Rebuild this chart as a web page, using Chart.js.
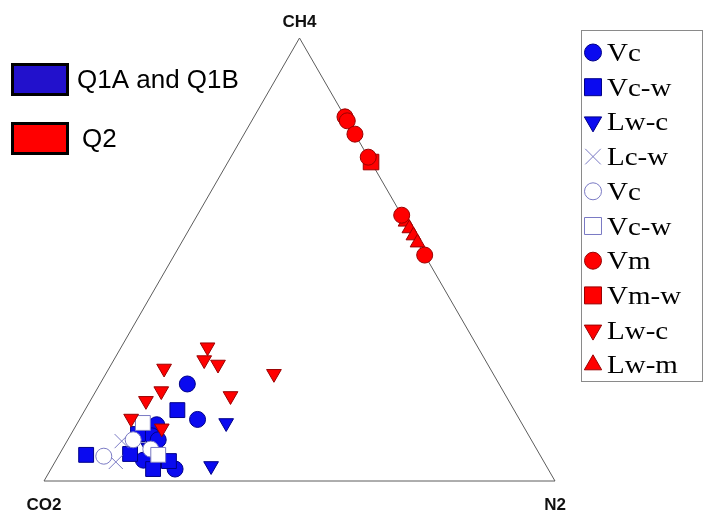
<!DOCTYPE html>
<html>
<head>
<meta charset="utf-8">
<script src="https://cdn.jsdelivr.net/npm/chart.js@4/dist/chart.umd.min.js"></script>
<style>
  html, body { margin: 0; padding: 0; background: #ffffff; }
  #wrap { position: relative; width: 705px; height: 514px; }
  canvas { display: block; }
</style>
</head>
<body>
<div id="wrap"><canvas id="tern" width="705" height="514"></canvas></div>
<script>
// Gas compositions, each point = [CH4 %, CO2 %, N2 %]
const q1VcFilled = [[21.9, 61.0, 17.1], [13.9, 63.0, 23.1], [12.7, 71.6, 15.7], [10.2, 73.8, 16.0], [9.3, 73.0, 17.7], [4.7, 78.2, 17.1], [2.7, 73.0, 24.3]];
const q1VcwFilled = [[5.9, 88.8, 5.3], [6.1, 80.1, 13.8], [2.7, 77.3, 20.0], [4.5, 73.3, 22.2], [16.0, 65.9, 18.1], [10.6, 76.3, 13.1]];
const q1LwcFilled = [[13.1, 57.8, 29.1], [3.4, 65.6, 31.0], [7.6, 75.8, 16.6]];
const q1Lcw = [[9.0, 80.3, 10.7], [4.3, 83.8, 11.9]];
const q1VcOpen = [[5.6, 85.5, 8.9], [9.3, 77.9, 12.8], [7.2, 75.5, 17.3]];
const q1VcwOpen = [[13.1, 74.1, 12.8], [5.9, 74.7, 19.4]];
const q2Vm = [[82.2, 0, 17.8], [81.3, 0, 18.7], [78.3, 0, 21.7], [73.1, 0, 26.9], [60.0, 0, 40.0], [51.0, 0, 49.0]];
const q2Vmw = [[72.0, 0, 28.0]];
const q2Lwc = [[30.2, 52.9, 16.9], [27.3, 55.0, 17.7], [26.3, 52.8, 20.9], [25.4, 63.8, 10.8], [24.2, 42.9, 32.9], [20.3, 66.9, 12.8], [19.2, 53.9, 26.9], [18.1, 71.0, 10.9], [14.1, 75.9, 10.0], [11.9, 71.0, 17.1]];
const q2Lwm = [[58.5, 0, 41.5], [57.0, 0, 43.0], [55.4, 0, 44.6], [53.8, 0, 46.2]];

// Apex labels and group labels
const apexLabels = ['CH4', 'CO2', 'N2'];
const groupLabels = ['Q1A and Q1B', 'Q2'];
const seriesLabels = ['Vc', 'Vc-w', 'Lw-c', 'Lc-w', 'Vc', 'Vc-w', 'Vm', 'Vm-w', 'Lw-c', 'Lw-m'];

const H = Math.sqrt(3) / 2;

// Ternary -> Cartesian: CO2 at (0,0), N2 at (1,0), CH4 at (0.5, H)
function toXY(p) {
  const s = p[0] + p[1] + p[2];
  const ch4 = p[0] / s, n2 = p[2] / s;
  return { x: n2 + 0.5 * ch4, y: ch4 * H };
}

const BLUE = '#0a0af0', BLUE_EDGE = '#000088';
const OPEN_EDGE = '#7a7ac4';
const RED = '#ff0000', RED_EDGE = '#9a0000';

// z: stacking layer (higher draws on top)
const series = [
  { data: q1VcFilled,  style: 'circle',   rot: 0,   r: 8,    fill: BLUE,      edge: BLUE_EDGE, z: 1 },
  { data: q1VcwFilled, style: 'rect',     rot: 0,   r: 10.5, fill: BLUE,      edge: BLUE_EDGE, z: 2 },
  { data: q1LwcFilled, style: 'triangle', rot: 180, r: 8.5,  fill: BLUE,      edge: BLUE_EDGE, z: 3 },
  { data: q1Lcw,       style: 'crossRot', rot: 0,   r: 10,   fill: OPEN_EDGE, edge: OPEN_EDGE, z: 4 },
  { data: q1VcOpen,    style: 'circle',   rot: 0,   r: 8,    fill: '#ffffff', edge: OPEN_EDGE, z: 5 },
  { data: q1VcwOpen,   style: 'rect',     rot: 0,   r: 10.5, fill: '#ffffff', edge: OPEN_EDGE, z: 6 },
  { data: q2Vm,        style: 'circle',   rot: 0,   r: 8,    fill: RED,       edge: RED_EDGE,  z: 10 },
  { data: q2Vmw,       style: 'rect',     rot: 0,   r: 11,   fill: RED,       edge: RED_EDGE,  z: 8 },
  { data: q2Lwc,       style: 'triangle', rot: 180, r: 8.5,  fill: RED,       edge: RED_EDGE,  z: 9 },
  { data: q2Lwm,       style: 'triangle', rot: 0,   r: 8.5,  fill: RED,       edge: RED_EDGE,  z: 7 }
];

const datasets = series.map((s, i) => ({
  type: 'scatter',
  label: seriesLabels[i],
  data: s.data.map(toXY),
  pointStyle: s.style,
  pointRotation: s.rot,
  pointRadius: s.r,
  pointHoverRadius: s.r,
  pointBackgroundColor: s.fill,
  pointBorderColor: s.edge,
  pointBorderWidth: 1,
  order: 20 - s.z,
  clip: false
}));

// Triangle frame
datasets.push({
  type: 'line',
  label: 'frame',
  data: [{ x: 0, y: 0 }, { x: 1, y: 0 }, { x: 0.5, y: H }, { x: 0, y: 0 }],
  borderColor: '#5c5c5c',
  borderWidth: 1,
  pointRadius: 0,
  fill: false,
  tension: 0,
  order: 100,
  clip: false
});

const decorations = {
  id: 'decorations',
  afterDraw(chart) {
    const ctx = chart.ctx;
    const xs = chart.scales.x, ys = chart.scales.y;
    ctx.save();

    // Apex labels
    ctx.fillStyle = '#111111';
    ctx.font = "bold 17px 'Liberation Sans', Arial, sans-serif";
    ctx.textAlign = 'center';
    ctx.textBaseline = 'alphabetic';
    ctx.fillText(apexLabels[0], xs.getPixelForValue(0.5), ys.getPixelForValue(H) - 11);
    ctx.fillText(apexLabels[1], xs.getPixelForValue(0), ys.getPixelForValue(0) + 29);
    ctx.fillText(apexLabels[2], xs.getPixelForValue(1), ys.getPixelForValue(0) + 29);

    // Group swatches
    const groups = [{ fill: '#2211cc', y: 64, text: groupLabels[0], tx: 77 }, { fill: '#ff0000', y: 123, text: groupLabels[1], tx: 82 }];
    ctx.textAlign = 'left';
    ctx.font = "26px 'Liberation Sans', Arial, sans-serif";
    groups.forEach(g => {
      ctx.fillStyle = g.fill;
      ctx.fillRect(12, g.y, 56, 31);
      ctx.lineWidth = 3;
      ctx.strokeStyle = '#000000';
      ctx.strokeRect(12.5, g.y + 0.5, 55, 30);
      ctx.fillStyle = '#000000';
      ctx.fillText(g.text, g.tx, g.y + 24);
    });

    // Series legend box
    ctx.lineWidth = 1;
    ctx.strokeStyle = '#8a8a8a';
    ctx.strokeRect(581.5, 30.5, 121, 351);
    const legendSize = { circle: 8.5, rect: 12, triangle: 10, crossRot: 11 };
    series.forEach((s, i) => {
      const cy = 52.5 + i * 34.7;
      ctx.fillStyle = s.fill;
      ctx.strokeStyle = s.edge;
      ctx.lineWidth = 1;
      Chart.helpers.drawPoint(ctx, {
        pointStyle: s.style,
        rotation: s.rot,
        radius: legendSize[s.style],
        borderWidth: 1
      }, 593, cy);
      ctx.save();
      ctx.fillStyle = '#000000';
      ctx.font = "25px 'Liberation Serif', 'Times New Roman', serif";
      ctx.translate(607, cy + 8.5);
      ctx.scale(1.16, 1);
      ctx.fillText(seriesLabels[i], 0, 0);
      ctx.restore();
    });
    ctx.restore();
  }
};

new Chart(document.getElementById('tern'), {
  data: { datasets },
  options: {
    responsive: false,
    animation: false,
    events: [],
    layout: { padding: { left: 44, right: 150, top: 38, bottom: 33 } },
    scales: {
      x: { type: 'linear', min: 0, max: 1, display: false },
      y: { type: 'linear', min: 0, max: H, display: false }
    },
    plugins: {
      legend: { display: false },
      tooltip: { enabled: false }
    }
  },
  plugins: [decorations]
});
</script>
</body>
</html>
